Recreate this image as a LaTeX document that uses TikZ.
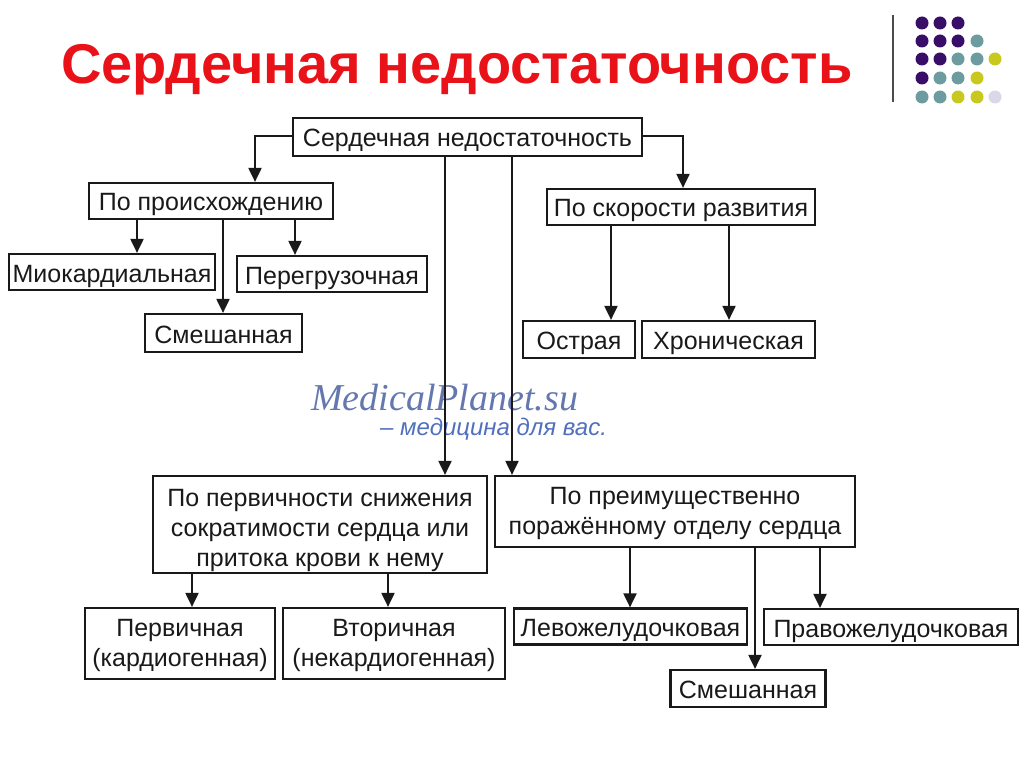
\documentclass[tikz,border=0pt]{standalone}
\usepackage{fontspec}
\setmainfont{Liberation Sans}
\newfontfamily\wmserif{Liberation Serif}
\usetikzlibrary{arrows.meta}
\definecolor{titlered}{RGB}{232,18,24}
\definecolor{dotP}{RGB}{56,14,104}
\definecolor{dotT}{RGB}{108,156,160}
\definecolor{dotY}{RGB}{200,200,30}
\definecolor{dotL}{RGB}{216,216,232}
\definecolor{wmblue}{RGB}{100,120,175}
\definecolor{wmblue2}{RGB}{80,112,190}
\tikzset{
  box/.style={draw=black!90, line width=2.2pt, inner sep=0pt, align=center,
    font=\fontsize{25}{30}\selectfont, text=black!90, text height=20pt, text depth=0pt},
  twol/.style={text height=46pt},
  threel/.style={text height=83pt},
  arr/.style={line width=2pt, draw=black!90, -{Triangle[length=14pt,width=13pt]}},
  dot/.style={circle, inner sep=0pt, minimum size=13pt},
  wm/.style={anchor=base west, inner sep=0pt},
}
\begin{document}
\begin{tikzpicture}[x=1pt,y=-1pt]
\useasboundingbox (0,0) rectangle (1024,767);
% title
\node[anchor=base, text=titlered, font=\fontsize{56}{62}\selectfont\bfseries] (title) at (457,84) {Сердечная недостаточность};
% decoration
\draw[line width=1.5pt, black!70] (893,15) -- (893,102);
\foreach \x/\y/\c in {
 922/23/dotP, 940/23/dotP, 958/23/dotP,
 922/41/dotP, 940/41/dotP, 958/41/dotP, 977/41/dotT,
 922/59/dotP, 940/59/dotP, 958/59/dotT, 977/59/dotT, 995/59/dotY,
 922/78/dotP, 940/78/dotT, 958/78/dotT, 977/78/dotY,
 922/97/dotT, 940/97/dotT, 958/97/dotY, 977/97/dotY, 995/97/dotL}
 \node[dot, fill=\c] at (\x,\y) {};
% watermark
\node[wm, text=wmblue, font=\wmserif\itshape\fontsize{38}{42}\selectfont] (wm1) at (311,410) {MedicalPlanet.su};
\node[wm, text=wmblue2, font=\itshape\fontsize{24}{28}\selectfont] (wm2) at (380,435) {– медицина для вас.};
% boxes
\node[box, minimum width=349, minimum height=38] (top) at (467.5,137) {Сердечная недостаточность};
\node[box, minimum width=244, minimum height=36] (orig) at (211,201) {По происхождению};
\node[box, minimum width=206, minimum height=36] (myo) at (112,272) {Миокардиальная};
\node[box, minimum width=190, minimum height=36] (over) at (332,274) {Перегрузочная};
\node[box, minimum width=157, minimum height=38] (mixa) at (223.5,333) {Смешанная};
\node[box, minimum width=268, minimum height=36] (speed) at (681,207) {По скорости развития};
\node[box, minimum width=112, minimum height=37] (acute) at (579,339.5) {Острая};
\node[box, minimum width=173, minimum height=37] (chron) at (728.5,339.5) {Хроническая};
\node[box, threel, minimum width=334, minimum height=97] (prim) at (320,524.5) {По первичности снижения\\сократимости сердца или\\притока крови к нему};
\node[box, twol, minimum width=360, minimum height=71] (dept) at (675,511.5) {По преимущественно\\поражённому отделу сердца};
\node[box, twol, minimum width=190, minimum height=71] (first) at (180,643.5) {Первичная\\(кардиогенная)};
\node[box, twol, minimum width=222, minimum height=71] (second) at (394,643.5) {Вторичная\\(некардиогенная)};
\node[box, minimum width=233, minimum height=36] (lv) at (630.5,626.5) {Левожелудочковая};
\node[box, minimum width=254, minimum height=36] (rv) at (891,627) {Правожелудочковая};
\node[box, minimum width=155, minimum height=37] (mixb) at (748,688.5) {Смешанная};
% connectors
\draw[arr] ([yshift=1]top.west) -| ([xshift=44]orig.north);
\draw[arr] ([yshift=1]top.east) -| ([xshift=2]speed.north);
\coordinate (o1) at ([xshift=-74]orig.south);
\coordinate (o2) at ([xshift=84]orig.south);
\coordinate (o3) at ([xshift=12]orig.south);
\draw[arr] (o1) -- (o1 |- myo.north);
\draw[arr] (o2) -- (o2 |- over.north);
\draw[arr] (o3) -- (o3 |- mixa.north);
\coordinate (s1) at ([xshift=-70]speed.south);
\coordinate (s2) at ([xshift=48]speed.south);
\draw[arr] (s1) -- (s1 |- acute.north);
\draw[arr] (s2) -- (s2 |- chron.north);
\coordinate (t1) at ([xshift=-22.5]top.south);
\coordinate (t2) at ([xshift=44.5]top.south);
\draw[arr] (t1) -- (t1 |- prim.north);
\draw[arr] (t2) -- (t2 |- dept.north);
\coordinate (p1) at ([xshift=-128]prim.south);
\coordinate (p2) at ([xshift=68]prim.south);
\draw[arr] (p1) -- (p1 |- first.north);
\draw[arr] (p2) -- (p2 |- second.north);
\coordinate (d1) at ([xshift=-45]dept.south);
\coordinate (d2) at ([xshift=145]dept.south);
\coordinate (d3) at ([xshift=80]dept.south);
\draw[arr] (d1) -- (d1 |- lv.north);
\draw[arr] (d2) -- (d2 |- rv.north);
\draw[arr] (d3) -- (d3 |- mixb.north);
\end{tikzpicture}
\end{document}
